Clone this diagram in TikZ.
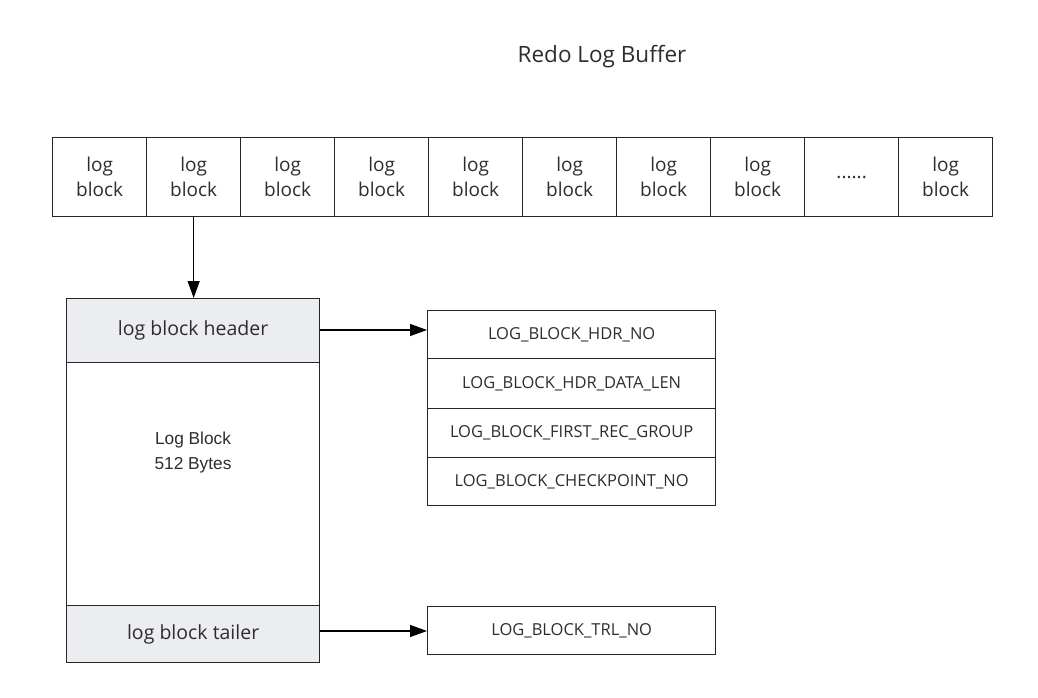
\documentclass[tikz,border=0pt]{standalone}
\usepackage{fontspec}
\setmainfont{Open Sans}
\newfontfamily\arialf{Liberation Sans}
\usetikzlibrary{arrows.meta}
\definecolor{hdrgray}{RGB}{236,237,241}
\definecolor{txt}{RGB}{45,45,45}
\tikzset{
  cell/.style={draw=black!85, line width=1.3pt, minimum width=94pt, minimum height=79pt, inner sep=0pt, align=center, font=\fontsize{19}{25}\selectfont, text=txt, anchor=north west},
  field/.style={draw=black!85, line width=1.3pt, minimum width=288pt, inner sep=0pt, align=center, font=\fontsize{16.5}{19}\selectfont, text=txt, anchor=north west},
  part/.style={draw=black!85, line width=1.3pt, minimum width=253pt, inner sep=0pt, align=center, font=\fontsize{19.5}{23}\selectfont, text=txt, anchor=north west},
  conn/.style={line width=1.3pt, -{Triangle[length=17pt,width=12pt]}}
}
\begin{document}
\begin{tikzpicture}[x=1pt,y=-1pt]
\useasboundingbox (0,0) rectangle (1038,698);
\node[font=\fontsize{22.5}{26}\selectfont, text=txt] (title) at (602,57) {Redo Log Buffer};
\foreach \i/\t in {0/log\\block,1/log\\block,2/log\\block,3/log\\block,4/log\\block,5/log\\block,6/log\\block,7/log\\block,8/{......},9/log\\block}{
  \node[cell] (b\i) at ({52+94*\i},137) {\t};
}
\node[part, minimum height=243pt] (body) at (66,362) {};
\node[font=\arialf\fontsize{17.3}{25}\selectfont, text=txt, align=center] (bodytxt) at (193,453) {Log Block\\512 Bytes};
\node[part, minimum height=64pt, fill=hdrgray] (hdr) at (66,298) {log block header};
\node[part, minimum height=57pt, fill=hdrgray] (tlr) at (66,605) {log block tailer};
\node[field, minimum height=48pt] (f1) at (427,310) {LOG\_BLOCK\_HDR\_NO};
\node[field, minimum height=50pt] (f2) at (427,358) {LOG\_BLOCK\_HDR\_DATA\_LEN};
\node[field, minimum height=49pt] (f3) at (427,408) {LOG\_BLOCK\_FIRST\_REC\_GROUP};
\node[field, minimum height=48pt] (f4) at (427,457) {LOG\_BLOCK\_CHECKPOINT\_NO};
\node[field, minimum height=48pt] (t1) at (427,606) {LOG\_BLOCK\_TRL\_NO};
\draw[conn] (b1.south) -- (hdr.north -| b1.south);
\draw[conn] (hdr.east |- 0,330) -- (f1.west |- 0,330);
\draw[conn] (tlr.east |- 0,631) -- (t1.west |- 0,631);
\end{tikzpicture}
\end{document}
